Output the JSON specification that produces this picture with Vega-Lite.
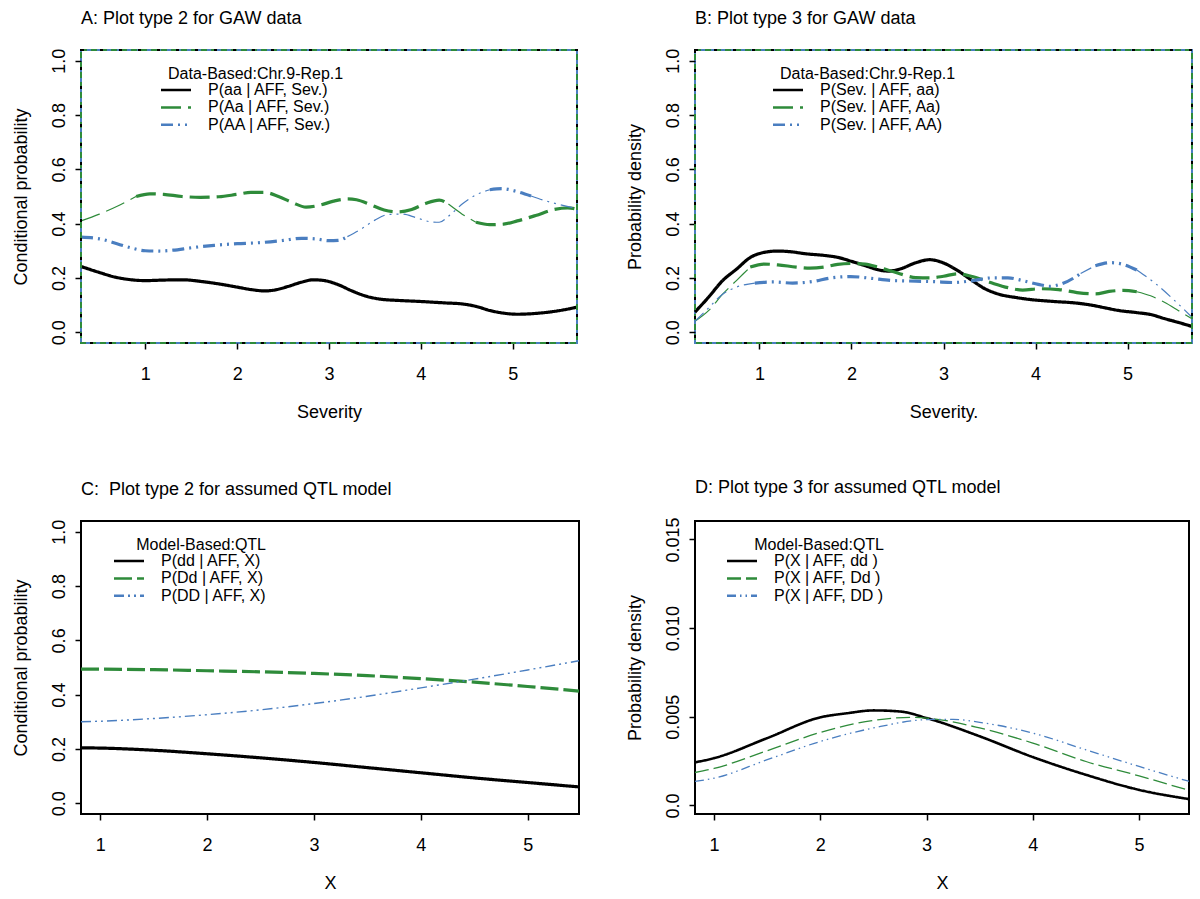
{
"$schema": "https://vega.github.io/schema/vega-lite/v6.json",
"background": "white",
"padding": {"left": 11, "top": 9, "right": 5, "bottom": 5},
"spacing": 55,
"config": {
 "font": "Liberation Sans",
 "axis": {"domain": false, "grid": false, "tickColor": "#000", "tickWidth": 1.5, "tickSize": 6, "labelColor": "#000", "labelFontSize": 18, "titleFontSize": 18, "titleFontWeight": "normal", "titleColor": "#000", "labelFont": "Liberation Sans", "titleFont": "Liberation Sans"},
 "axisX": {"labelPadding": 16, "titlePadding": 20},
 "axisY": {"labelAngle": 270, "labelAlign": "center", "labelBaseline": "bottom", "labelPadding": 7, "titlePadding": 20},
 "legend": {"orient": "none", "padding": 0, "titleFontSize": 16, "titleFontWeight": "normal", "titleFont": "Liberation Sans", "titleColor": "#000", "titleLimit": 400, "titleAnchor": "end", "titlePadding": 0, "labelFontSize": 16, "labelFont": "Liberation Sans", "labelColor": "#000", "labelLimit": 400, "symbolType": "M-3,0H3", "symbolSize": 100, "symbolStrokeWidth": 2.5, "labelOffset": 24, "rowPadding": 1.4},
 "title": {"anchor": "start", "frame": "group", "fontSize": 18, "fontWeight": "normal", "color": "#000", "baseline": "alphabetic", "offset": 20, "font": "Liberation Sans"},
 "line": {"interpolate": "monotone"}
},
"datasets": {
 "A": [
  {"s":"P(aa | AFF, Sev.)","g":1,"w":"high","x":0.3,"y":0.242},{"s":"P(aa | AFF, Sev.)","g":1,"w":"high","x":0.5,"y":0.22},{"s":"P(aa | AFF, Sev.)","g":1,"w":"high","x":0.67,"y":0.203},{"s":"P(aa | AFF, Sev.)","g":1,"w":"high","x":0.85,"y":0.193},{"s":"P(aa | AFF, Sev.)","g":1,"w":"high","x":1.0,"y":0.19},{"s":"P(aa | AFF, Sev.)","g":1,"w":"high","x":1.2,"y":0.192},{"s":"P(aa | AFF, Sev.)","g":1,"w":"high","x":1.4,"y":0.193},{"s":"P(aa | AFF, Sev.)","g":1,"w":"high","x":1.63,"y":0.186},{"s":"P(aa | AFF, Sev.)","g":1,"w":"high","x":1.85,"y":0.175},{"s":"P(aa | AFF, Sev.)","g":1,"w":"high","x":2.0,"y":0.166},{"s":"P(aa | AFF, Sev.)","g":1,"w":"high","x":2.15,"y":0.157},{"s":"P(aa | AFF, Sev.)","g":1,"w":"high","x":2.3,"y":0.152},{"s":"P(aa | AFF, Sev.)","g":1,"w":"high","x":2.42,"y":0.156},{"s":"P(aa | AFF, Sev.)","g":1,"w":"high","x":2.55,"y":0.168},{"s":"P(aa | AFF, Sev.)","g":1,"w":"high","x":2.7,"y":0.184},{"s":"P(aa | AFF, Sev.)","g":1,"w":"high","x":2.83,"y":0.193},{"s":"P(aa | AFF, Sev.)","g":1,"w":"high","x":2.95,"y":0.19},{"s":"P(aa | AFF, Sev.)","g":1,"w":"high","x":3.1,"y":0.175},{"s":"P(aa | AFF, Sev.)","g":1,"w":"high","x":3.25,"y":0.152},{"s":"P(aa | AFF, Sev.)","g":1,"w":"high","x":3.4,"y":0.133},{"s":"P(aa | AFF, Sev.)","g":1,"w":"high","x":3.55,"y":0.122},{"s":"P(aa | AFF, Sev.)","g":1,"w":"high","x":3.75,"y":0.117},{"s":"P(aa | AFF, Sev.)","g":1,"w":"high","x":4.0,"y":0.113},{"s":"P(aa | AFF, Sev.)","g":1,"w":"high","x":4.25,"y":0.108},{"s":"P(aa | AFF, Sev.)","g":1,"w":"high","x":4.45,"y":0.104},{"s":"P(aa | AFF, Sev.)","g":1,"w":"high","x":4.6,"y":0.095},{"s":"P(aa | AFF, Sev.)","g":1,"w":"high","x":4.75,"y":0.08},{"s":"P(aa | AFF, Sev.)","g":1,"w":"high","x":4.9,"y":0.07},{"s":"P(aa | AFF, Sev.)","g":1,"w":"high","x":5.05,"y":0.066},{"s":"P(aa | AFF, Sev.)","g":1,"w":"high","x":5.25,"y":0.069},{"s":"P(aa | AFF, Sev.)","g":1,"w":"high","x":5.5,"y":0.079},{"s":"P(aa | AFF, Sev.)","g":1,"w":"high","x":5.7,"y":0.092},
  {"s":"P(Aa | AFF, Sev.)","g":1,"w":"low","x":0.3,"y":0.41},{"s":"P(Aa | AFF, Sev.)","g":1,"w":"low","x":0.5,"y":0.435},{"s":"P(Aa | AFF, Sev.)","g":1,"w":"low","x":0.7,"y":0.465},{"s":"P(Aa | AFF, Sev.)","g":1,"w":"low","x":0.9,"y":0.5},
  {"s":"P(Aa | AFF, Sev.)","g":2,"w":"high","x":0.9,"y":0.5},{"s":"P(Aa | AFF, Sev.)","g":2,"w":"high","x":1.05,"y":0.51},{"s":"P(Aa | AFF, Sev.)","g":2,"w":"high","x":1.2,"y":0.508},{"s":"P(Aa | AFF, Sev.)","g":2,"w":"high","x":1.4,"y":0.5},{"s":"P(Aa | AFF, Sev.)","g":2,"w":"high","x":1.6,"y":0.497},{"s":"P(Aa | AFF, Sev.)","g":2,"w":"high","x":1.8,"y":0.499},{"s":"P(Aa | AFF, Sev.)","g":2,"w":"high","x":2.0,"y":0.508},{"s":"P(Aa | AFF, Sev.)","g":2,"w":"high","x":2.15,"y":0.515},{"s":"P(Aa | AFF, Sev.)","g":2,"w":"high","x":2.3,"y":0.515},{"s":"P(Aa | AFF, Sev.)","g":2,"w":"high","x":2.45,"y":0.5},{"s":"P(Aa | AFF, Sev.)","g":2,"w":"high","x":2.6,"y":0.478},{"s":"P(Aa | AFF, Sev.)","g":2,"w":"high","x":2.75,"y":0.461},{"s":"P(Aa | AFF, Sev.)","g":2,"w":"high","x":2.9,"y":0.468},{"s":"P(Aa | AFF, Sev.)","g":2,"w":"high","x":3.05,"y":0.483},{"s":"P(Aa | AFF, Sev.)","g":2,"w":"high","x":3.2,"y":0.491},{"s":"P(Aa | AFF, Sev.)","g":2,"w":"high","x":3.3,"y":0.488},{"s":"P(Aa | AFF, Sev.)","g":2,"w":"high","x":3.45,"y":0.47},{"s":"P(Aa | AFF, Sev.)","g":2,"w":"high","x":3.6,"y":0.45},{"s":"P(Aa | AFF, Sev.)","g":2,"w":"high","x":3.75,"y":0.443},{"s":"P(Aa | AFF, Sev.)","g":2,"w":"high","x":3.9,"y":0.452},{"s":"P(Aa | AFF, Sev.)","g":2,"w":"high","x":4.05,"y":0.474},{"s":"P(Aa | AFF, Sev.)","g":2,"w":"high","x":4.2,"y":0.487},{"s":"P(Aa | AFF, Sev.)","g":2,"w":"high","x":4.3,"y":0.472},
  {"s":"P(Aa | AFF, Sev.)","g":3,"w":"low","x":4.3,"y":0.472},{"s":"P(Aa | AFF, Sev.)","g":3,"w":"low","x":4.45,"y":0.435},{"s":"P(Aa | AFF, Sev.)","g":3,"w":"low","x":4.6,"y":0.405},
  {"s":"P(Aa | AFF, Sev.)","g":4,"w":"high","x":4.6,"y":0.405},{"s":"P(Aa | AFF, Sev.)","g":4,"w":"high","x":4.75,"y":0.396},{"s":"P(Aa | AFF, Sev.)","g":4,"w":"high","x":4.9,"y":0.398},{"s":"P(Aa | AFF, Sev.)","g":4,"w":"high","x":5.05,"y":0.41},{"s":"P(Aa | AFF, Sev.)","g":4,"w":"high","x":5.25,"y":0.43},{"s":"P(Aa | AFF, Sev.)","g":4,"w":"high","x":5.45,"y":0.452},{"s":"P(Aa | AFF, Sev.)","g":4,"w":"high","x":5.6,"y":0.458},{"s":"P(Aa | AFF, Sev.)","g":4,"w":"high","x":5.7,"y":0.453},
  {"s":"P(AA | AFF, Sev.)","g":1,"w":"high","x":0.3,"y":0.35},{"s":"P(AA | AFF, Sev.)","g":1,"w":"high","x":0.5,"y":0.344},{"s":"P(AA | AFF, Sev.)","g":1,"w":"high","x":0.7,"y":0.325},{"s":"P(AA | AFF, Sev.)","g":1,"w":"high","x":0.85,"y":0.31},{"s":"P(AA | AFF, Sev.)","g":1,"w":"high","x":1.0,"y":0.3},{"s":"P(AA | AFF, Sev.)","g":1,"w":"high","x":1.15,"y":0.299},{"s":"P(AA | AFF, Sev.)","g":1,"w":"high","x":1.3,"y":0.302},{"s":"P(AA | AFF, Sev.)","g":1,"w":"high","x":1.5,"y":0.311},{"s":"P(AA | AFF, Sev.)","g":1,"w":"high","x":1.75,"y":0.32},{"s":"P(AA | AFF, Sev.)","g":1,"w":"high","x":2.0,"y":0.326},{"s":"P(AA | AFF, Sev.)","g":1,"w":"high","x":2.25,"y":0.33},{"s":"P(AA | AFF, Sev.)","g":1,"w":"high","x":2.5,"y":0.338},{"s":"P(AA | AFF, Sev.)","g":1,"w":"high","x":2.7,"y":0.346},{"s":"P(AA | AFF, Sev.)","g":1,"w":"high","x":2.85,"y":0.344},{"s":"P(AA | AFF, Sev.)","g":1,"w":"high","x":3.0,"y":0.337},{"s":"P(AA | AFF, Sev.)","g":1,"w":"high","x":3.1,"y":0.338},{"s":"P(AA | AFF, Sev.)","g":1,"w":"high","x":3.2,"y":0.352},
  {"s":"P(AA | AFF, Sev.)","g":2,"w":"low","x":3.2,"y":0.352},{"s":"P(AA | AFF, Sev.)","g":2,"w":"low","x":3.35,"y":0.38},{"s":"P(AA | AFF, Sev.)","g":2,"w":"low","x":3.5,"y":0.413},{"s":"P(AA | AFF, Sev.)","g":2,"w":"low","x":3.65,"y":0.434},{"s":"P(AA | AFF, Sev.)","g":2,"w":"low","x":3.8,"y":0.435},{"s":"P(AA | AFF, Sev.)","g":2,"w":"low","x":3.95,"y":0.422},{"s":"P(AA | AFF, Sev.)","g":2,"w":"low","x":4.1,"y":0.407},{"s":"P(AA | AFF, Sev.)","g":2,"w":"low","x":4.2,"y":0.405},{"s":"P(AA | AFF, Sev.)","g":2,"w":"low","x":4.3,"y":0.427},{"s":"P(AA | AFF, Sev.)","g":2,"w":"low","x":4.45,"y":0.472},{"s":"P(AA | AFF, Sev.)","g":2,"w":"low","x":4.6,"y":0.506},{"s":"P(AA | AFF, Sev.)","g":2,"w":"low","x":4.75,"y":0.525},
  {"s":"P(AA | AFF, Sev.)","g":3,"w":"high","x":4.75,"y":0.525},{"s":"P(AA | AFF, Sev.)","g":3,"w":"high","x":4.88,"y":0.529},{"s":"P(AA | AFF, Sev.)","g":3,"w":"high","x":5.05,"y":0.518},{"s":"P(AA | AFF, Sev.)","g":3,"w":"high","x":5.2,"y":0.502},
  {"s":"P(AA | AFF, Sev.)","g":4,"w":"low","x":5.2,"y":0.502},{"s":"P(AA | AFF, Sev.)","g":4,"w":"low","x":5.35,"y":0.485},{"s":"P(AA | AFF, Sev.)","g":4,"w":"low","x":5.5,"y":0.471},{"s":"P(AA | AFF, Sev.)","g":4,"w":"low","x":5.7,"y":0.455}
 ],
 "B": [
  {"s":"P(Sev. | AFF, aa)","g":1,"w":"high","x":0.3,"y":0.074},{"s":"P(Sev. | AFF, aa)","g":1,"w":"high","x":0.45,"y":0.13},{"s":"P(Sev. | AFF, aa)","g":1,"w":"high","x":0.6,"y":0.19},{"s":"P(Sev. | AFF, aa)","g":1,"w":"high","x":0.75,"y":0.232},{"s":"P(Sev. | AFF, aa)","g":1,"w":"high","x":0.9,"y":0.275},{"s":"P(Sev. | AFF, aa)","g":1,"w":"high","x":1.05,"y":0.294},{"s":"P(Sev. | AFF, aa)","g":1,"w":"high","x":1.2,"y":0.299},{"s":"P(Sev. | AFF, aa)","g":1,"w":"high","x":1.35,"y":0.296},{"s":"P(Sev. | AFF, aa)","g":1,"w":"high","x":1.5,"y":0.289},{"s":"P(Sev. | AFF, aa)","g":1,"w":"high","x":1.7,"y":0.283},{"s":"P(Sev. | AFF, aa)","g":1,"w":"high","x":1.86,"y":0.275},{"s":"P(Sev. | AFF, aa)","g":1,"w":"high","x":2.0,"y":0.261},{"s":"P(Sev. | AFF, aa)","g":1,"w":"high","x":2.15,"y":0.245},{"s":"P(Sev. | AFF, aa)","g":1,"w":"high","x":2.3,"y":0.229},{"s":"P(Sev. | AFF, aa)","g":1,"w":"high","x":2.4,"y":0.225},{"s":"P(Sev. | AFF, aa)","g":1,"w":"high","x":2.53,"y":0.233},{"s":"P(Sev. | AFF, aa)","g":1,"w":"high","x":2.7,"y":0.256},{"s":"P(Sev. | AFF, aa)","g":1,"w":"high","x":2.85,"y":0.267},{"s":"P(Sev. | AFF, aa)","g":1,"w":"high","x":3.0,"y":0.255},{"s":"P(Sev. | AFF, aa)","g":1,"w":"high","x":3.15,"y":0.228},{"s":"P(Sev. | AFF, aa)","g":1,"w":"high","x":3.3,"y":0.193},{"s":"P(Sev. | AFF, aa)","g":1,"w":"high","x":3.45,"y":0.16},{"s":"P(Sev. | AFF, aa)","g":1,"w":"high","x":3.6,"y":0.14},{"s":"P(Sev. | AFF, aa)","g":1,"w":"high","x":3.8,"y":0.127},{"s":"P(Sev. | AFF, aa)","g":1,"w":"high","x":3.95,"y":0.12},{"s":"P(Sev. | AFF, aa)","g":1,"w":"high","x":4.2,"y":0.113},{"s":"P(Sev. | AFF, aa)","g":1,"w":"high","x":4.45,"y":0.107},{"s":"P(Sev. | AFF, aa)","g":1,"w":"high","x":4.6,"y":0.1},{"s":"P(Sev. | AFF, aa)","g":1,"w":"high","x":4.75,"y":0.09},{"s":"P(Sev. | AFF, aa)","g":1,"w":"high","x":4.9,"y":0.08},{"s":"P(Sev. | AFF, aa)","g":1,"w":"high","x":5.1,"y":0.072},{"s":"P(Sev. | AFF, aa)","g":1,"w":"high","x":5.25,"y":0.065},{"s":"P(Sev. | AFF, aa)","g":1,"w":"high","x":5.4,"y":0.05},{"s":"P(Sev. | AFF, aa)","g":1,"w":"high","x":5.55,"y":0.036},{"s":"P(Sev. | AFF, aa)","g":1,"w":"high","x":5.7,"y":0.021},
  {"s":"P(Sev. | AFF, Aa)","g":1,"w":"low","x":0.3,"y":0.04},{"s":"P(Sev. | AFF, Aa)","g":1,"w":"low","x":0.45,"y":0.08},{"s":"P(Sev. | AFF, Aa)","g":1,"w":"low","x":0.6,"y":0.14},{"s":"P(Sev. | AFF, Aa)","g":1,"w":"low","x":0.75,"y":0.19},{"s":"P(Sev. | AFF, Aa)","g":1,"w":"low","x":0.9,"y":0.24},
  {"s":"P(Sev. | AFF, Aa)","g":2,"w":"high","x":0.9,"y":0.24},{"s":"P(Sev. | AFF, Aa)","g":2,"w":"high","x":1.05,"y":0.251},{"s":"P(Sev. | AFF, Aa)","g":2,"w":"high","x":1.2,"y":0.248},{"s":"P(Sev. | AFF, Aa)","g":2,"w":"high","x":1.4,"y":0.24},{"s":"P(Sev. | AFF, Aa)","g":2,"w":"high","x":1.55,"y":0.236},{"s":"P(Sev. | AFF, Aa)","g":2,"w":"high","x":1.7,"y":0.24},{"s":"P(Sev. | AFF, Aa)","g":2,"w":"high","x":1.85,"y":0.25},{"s":"P(Sev. | AFF, Aa)","g":2,"w":"high","x":2.0,"y":0.253},{"s":"P(Sev. | AFF, Aa)","g":2,"w":"high","x":2.15,"y":0.251},{"s":"P(Sev. | AFF, Aa)","g":2,"w":"high","x":2.3,"y":0.238},{"s":"P(Sev. | AFF, Aa)","g":2,"w":"high","x":2.5,"y":0.218},{"s":"P(Sev. | AFF, Aa)","g":2,"w":"high","x":2.7,"y":0.201},{"s":"P(Sev. | AFF, Aa)","g":2,"w":"high","x":2.85,"y":0.2},{"s":"P(Sev. | AFF, Aa)","g":2,"w":"high","x":3.0,"y":0.206},{"s":"P(Sev. | AFF, Aa)","g":2,"w":"high","x":3.15,"y":0.215},{"s":"P(Sev. | AFF, Aa)","g":2,"w":"high","x":3.3,"y":0.206},{"s":"P(Sev. | AFF, Aa)","g":2,"w":"high","x":3.5,"y":0.184},{"s":"P(Sev. | AFF, Aa)","g":2,"w":"high","x":3.7,"y":0.164},{"s":"P(Sev. | AFF, Aa)","g":2,"w":"high","x":3.86,"y":0.155},{"s":"P(Sev. | AFF, Aa)","g":2,"w":"high","x":4.05,"y":0.16},{"s":"P(Sev. | AFF, Aa)","g":2,"w":"high","x":4.25,"y":0.157},{"s":"P(Sev. | AFF, Aa)","g":2,"w":"high","x":4.45,"y":0.146},{"s":"P(Sev. | AFF, Aa)","g":2,"w":"high","x":4.65,"y":0.141},{"s":"P(Sev. | AFF, Aa)","g":2,"w":"high","x":4.8,"y":0.15},{"s":"P(Sev. | AFF, Aa)","g":2,"w":"high","x":4.95,"y":0.154},{"s":"P(Sev. | AFF, Aa)","g":2,"w":"high","x":5.1,"y":0.149},
  {"s":"P(Sev. | AFF, Aa)","g":3,"w":"low","x":5.1,"y":0.149},{"s":"P(Sev. | AFF, Aa)","g":3,"w":"low","x":5.25,"y":0.134},{"s":"P(Sev. | AFF, Aa)","g":3,"w":"low","x":5.4,"y":0.11},{"s":"P(Sev. | AFF, Aa)","g":3,"w":"low","x":5.55,"y":0.08},{"s":"P(Sev. | AFF, Aa)","g":3,"w":"low","x":5.7,"y":0.049},
  {"s":"P(Sev. | AFF, AA)","g":1,"w":"low","x":0.3,"y":0.04},{"s":"P(Sev. | AFF, AA)","g":1,"w":"low","x":0.45,"y":0.09},{"s":"P(Sev. | AFF, AA)","g":1,"w":"low","x":0.6,"y":0.14},{"s":"P(Sev. | AFF, AA)","g":1,"w":"low","x":0.75,"y":0.166},{"s":"P(Sev. | AFF, AA)","g":1,"w":"low","x":0.95,"y":0.181},
  {"s":"P(Sev. | AFF, AA)","g":2,"w":"high","x":0.95,"y":0.181},{"s":"P(Sev. | AFF, AA)","g":2,"w":"high","x":1.15,"y":0.185},{"s":"P(Sev. | AFF, AA)","g":2,"w":"high","x":1.36,"y":0.181},{"s":"P(Sev. | AFF, AA)","g":2,"w":"high","x":1.57,"y":0.186},{"s":"P(Sev. | AFF, AA)","g":2,"w":"high","x":1.78,"y":0.2},{"s":"P(Sev. | AFF, AA)","g":2,"w":"high","x":1.99,"y":0.205},{"s":"P(Sev. | AFF, AA)","g":2,"w":"high","x":2.2,"y":0.199},{"s":"P(Sev. | AFF, AA)","g":2,"w":"high","x":2.45,"y":0.19},{"s":"P(Sev. | AFF, AA)","g":2,"w":"high","x":2.7,"y":0.188},{"s":"P(Sev. | AFF, AA)","g":2,"w":"high","x":2.9,"y":0.186},{"s":"P(Sev. | AFF, AA)","g":2,"w":"high","x":3.11,"y":0.183},{"s":"P(Sev. | AFF, AA)","g":2,"w":"high","x":3.32,"y":0.19},{"s":"P(Sev. | AFF, AA)","g":2,"w":"high","x":3.53,"y":0.2},{"s":"P(Sev. | AFF, AA)","g":2,"w":"high","x":3.7,"y":0.2},{"s":"P(Sev. | AFF, AA)","g":2,"w":"high","x":3.86,"y":0.19},{"s":"P(Sev. | AFF, AA)","g":2,"w":"high","x":4.03,"y":0.176},{"s":"P(Sev. | AFF, AA)","g":2,"w":"high","x":4.15,"y":0.169},{"s":"P(Sev. | AFF, AA)","g":2,"w":"high","x":4.3,"y":0.18},{"s":"P(Sev. | AFF, AA)","g":2,"w":"high","x":4.49,"y":0.216},
  {"s":"P(Sev. | AFF, AA)","g":3,"w":"low","x":4.49,"y":0.216},{"s":"P(Sev. | AFF, AA)","g":3,"w":"low","x":4.65,"y":0.245},
  {"s":"P(Sev. | AFF, AA)","g":4,"w":"high","x":4.65,"y":0.245},{"s":"P(Sev. | AFF, AA)","g":4,"w":"high","x":4.82,"y":0.256},{"s":"P(Sev. | AFF, AA)","g":4,"w":"high","x":4.95,"y":0.25},{"s":"P(Sev. | AFF, AA)","g":4,"w":"high","x":5.1,"y":0.229},
  {"s":"P(Sev. | AFF, AA)","g":5,"w":"low","x":5.1,"y":0.229},{"s":"P(Sev. | AFF, AA)","g":5,"w":"low","x":5.3,"y":0.18},{"s":"P(Sev. | AFF, AA)","g":5,"w":"low","x":5.5,"y":0.12},{"s":"P(Sev. | AFF, AA)","g":5,"w":"low","x":5.7,"y":0.055}
 ],
 "C": [
  {"s":"P(dd | AFF, X)","g":1,"w":"high","x":0.82,"y":0.204},{"s":"P(dd | AFF, X)","g":1,"w":"high","x":1.0,"y":0.203},{"s":"P(dd | AFF, X)","g":1,"w":"high","x":1.5,"y":0.195},{"s":"P(dd | AFF, X)","g":1,"w":"high","x":2.0,"y":0.182},{"s":"P(dd | AFF, X)","g":1,"w":"high","x":2.5,"y":0.167},{"s":"P(dd | AFF, X)","g":1,"w":"high","x":3.0,"y":0.15},{"s":"P(dd | AFF, X)","g":1,"w":"high","x":3.5,"y":0.131},{"s":"P(dd | AFF, X)","g":1,"w":"high","x":4.0,"y":0.112},{"s":"P(dd | AFF, X)","g":1,"w":"high","x":4.5,"y":0.093},{"s":"P(dd | AFF, X)","g":1,"w":"high","x":5.0,"y":0.076},{"s":"P(dd | AFF, X)","g":1,"w":"high","x":5.48,"y":0.06},
  {"s":"P(Dd | AFF, X)","g":1,"w":"high","x":0.82,"y":0.494},{"s":"P(Dd | AFF, X)","g":1,"w":"high","x":1.5,"y":0.492},{"s":"P(Dd | AFF, X)","g":1,"w":"high","x":2.0,"y":0.488},{"s":"P(Dd | AFF, X)","g":1,"w":"high","x":2.5,"y":0.484},{"s":"P(Dd | AFF, X)","g":1,"w":"high","x":3.0,"y":0.478},{"s":"P(Dd | AFF, X)","g":1,"w":"high","x":3.5,"y":0.47},{"s":"P(Dd | AFF, X)","g":1,"w":"high","x":4.0,"y":0.459},{"s":"P(Dd | AFF, X)","g":1,"w":"high","x":4.5,"y":0.446},{"s":"P(Dd | AFF, X)","g":1,"w":"high","x":5.0,"y":0.43},{"s":"P(Dd | AFF, X)","g":1,"w":"high","x":5.48,"y":0.413},
  {"s":"P(DD | AFF, X)","g":1,"w":"low","x":0.82,"y":0.3},{"s":"P(DD | AFF, X)","g":1,"w":"low","x":1.0,"y":0.302},{"s":"P(DD | AFF, X)","g":1,"w":"low","x":1.5,"y":0.312},{"s":"P(DD | AFF, X)","g":1,"w":"low","x":2.0,"y":0.326},{"s":"P(DD | AFF, X)","g":1,"w":"low","x":2.5,"y":0.344},{"s":"P(DD | AFF, X)","g":1,"w":"low","x":3.0,"y":0.367},{"s":"P(DD | AFF, X)","g":1,"w":"low","x":3.5,"y":0.394},{"s":"P(DD | AFF, X)","g":1,"w":"low","x":4.0,"y":0.425},{"s":"P(DD | AFF, X)","g":1,"w":"low","x":4.5,"y":0.457},{"s":"P(DD | AFF, X)","g":1,"w":"low","x":5.0,"y":0.491},{"s":"P(DD | AFF, X)","g":1,"w":"low","x":5.48,"y":0.525}
 ],
 "D": [
  {"s":"P(X | AFF, dd )","g":1,"w":"high","x":0.82,"y":0.00243},{"s":"P(X | AFF, dd )","g":1,"w":"high","x":1.0,"y":0.00267},{"s":"P(X | AFF, dd )","g":1,"w":"high","x":1.5,"y":0.0038},{"s":"P(X | AFF, dd )","g":1,"w":"high","x":2.0,"y":0.00497},{"s":"P(X | AFF, dd )","g":1,"w":"high","x":2.25,"y":0.0052},{"s":"P(X | AFF, dd )","g":1,"w":"high","x":2.5,"y":0.00536},{"s":"P(X | AFF, dd )","g":1,"w":"high","x":2.75,"y":0.0053},{"s":"P(X | AFF, dd )","g":1,"w":"high","x":3.0,"y":0.00493},{"s":"P(X | AFF, dd )","g":1,"w":"high","x":3.5,"y":0.0039},{"s":"P(X | AFF, dd )","g":1,"w":"high","x":4.0,"y":0.00273},{"s":"P(X | AFF, dd )","g":1,"w":"high","x":4.5,"y":0.00173},{"s":"P(X | AFF, dd )","g":1,"w":"high","x":5.0,"y":0.00088},{"s":"P(X | AFF, dd )","g":1,"w":"high","x":5.47,"y":0.00036},
  {"s":"P(X | AFF, Dd )","g":1,"w":"low","x":0.82,"y":0.00186},{"s":"P(X | AFF, Dd )","g":1,"w":"low","x":1.0,"y":0.00209},{"s":"P(X | AFF, Dd )","g":1,"w":"low","x":1.5,"y":0.00309},{"s":"P(X | AFF, Dd )","g":1,"w":"low","x":2.0,"y":0.00412},{"s":"P(X | AFF, Dd )","g":1,"w":"low","x":2.5,"y":0.0048},{"s":"P(X | AFF, Dd )","g":1,"w":"low","x":2.85,"y":0.00497},{"s":"P(X | AFF, Dd )","g":1,"w":"low","x":3.0,"y":0.00493},{"s":"P(X | AFF, Dd )","g":1,"w":"low","x":3.5,"y":0.00437},{"s":"P(X | AFF, Dd )","g":1,"w":"low","x":4.0,"y":0.00352},{"s":"P(X | AFF, Dd )","g":1,"w":"low","x":4.5,"y":0.00248},{"s":"P(X | AFF, Dd )","g":1,"w":"low","x":5.0,"y":0.00167},{"s":"P(X | AFF, Dd )","g":1,"w":"low","x":5.47,"y":0.00085},
  {"s":"P(X | AFF, DD )","g":1,"w":"low","x":0.82,"y":0.00136},{"s":"P(X | AFF, DD )","g":1,"w":"low","x":1.0,"y":0.00154},{"s":"P(X | AFF, DD )","g":1,"w":"low","x":1.5,"y":0.00258},{"s":"P(X | AFF, DD )","g":1,"w":"low","x":2.0,"y":0.00361},{"s":"P(X | AFF, DD )","g":1,"w":"low","x":2.5,"y":0.00437},{"s":"P(X | AFF, DD )","g":1,"w":"low","x":3.0,"y":0.00484},{"s":"P(X | AFF, DD )","g":1,"w":"low","x":3.25,"y":0.00486},{"s":"P(X | AFF, DD )","g":1,"w":"low","x":3.5,"y":0.00469},{"s":"P(X | AFF, DD )","g":1,"w":"low","x":4.0,"y":0.00408},{"s":"P(X | AFF, DD )","g":1,"w":"low","x":4.5,"y":0.00314},{"s":"P(X | AFF, DD )","g":1,"w":"low","x":5.0,"y":0.0022},{"s":"P(X | AFF, DD )","g":1,"w":"low","x":5.47,"y":0.00136}
 ]
},
"resolve": {"scale": {"color": "independent", "strokeDash": "independent", "strokeWidth": "independent"}, "legend": {"color": "independent", "strokeDash": "independent"}},
"vconcat": [
 {"hconcat": [
  {"title": "A: Plot type 2 for GAW data", "width": 496, "height": 293,
   "view": {"stroke": "#4A7EC0", "strokeWidth": 2},
   "layer": [
    {"data": {"name": "A"}, "mark": {"type": "line"},
     "encoding": {
      "x": {"field": "x", "type": "quantitative", "scale": {"domain": [0.3, 5.7], "nice": false, "zero": false}, "axis": {"values": [1,2,3,4,5], "title": "Severity"}},
      "y": {"field": "y", "type": "quantitative", "scale": {"domain": [-0.04, 1.04], "nice": false, "zero": false}, "axis": {"values": [0,0.2,0.4,0.6,0.8,1], "format": ".1f", "title": "Conditional probability"}},
      "color": {"field": "s", "type": "nominal", "scale": {"domain": ["P(aa | AFF, Sev.)","P(Aa | AFF, Sev.)","P(AA | AFF, Sev.)"], "range": ["#000000","#2E8B3A","#4A7EC0"]}, "legend": {"title": "Data-Based:Chr.9-Rep.1", "titleAnchor": "start", "legendX": 87, "legendY": 16}},
      "strokeDash": {"field": "s", "type": "nominal", "scale": {"domain": ["P(aa | AFF, Sev.)","P(Aa | AFF, Sev.)","P(AA | AFF, Sev.)"], "range": [[1,0],[20,7],[12,5,2,5,2,5]]}, "legend": {"title": "Data-Based:Chr.9-Rep.1", "titleAnchor": "start", "legendX": 87, "legendY": 16}},
      "strokeWidth": {"field": "w", "type": "ordinal", "scale": {"domain": ["low","high"], "range": [1.2, 3.2]}, "legend": null},
      "detail": {"field": "g", "type": "nominal"}
     }},
    {"data": {"values": [{}]}, "mark": {"type": "rect", "fill": "transparent", "stroke": "#2E8B3A", "strokeWidth": 2, "strokeDash": [6,4]}, "encoding": {}},
    {"data": {"values": [{}]}, "mark": {"type": "rect", "fill": "transparent", "stroke": "#000000", "strokeWidth": 2, "strokeDash": [3,16]}, "encoding": {}}
   ]},
  {"title": "B: Plot type 3 for GAW data", "width": 497, "height": 293,
   "view": {"stroke": "#4A7EC0", "strokeWidth": 2},
   "layer": [
    {"data": {"name": "B"}, "mark": {"type": "line"},
     "encoding": {
      "x": {"field": "x", "type": "quantitative", "scale": {"domain": [0.3, 5.7], "nice": false, "zero": false}, "axis": {"values": [1,2,3,4,5], "title": "Severity."}},
      "y": {"field": "y", "type": "quantitative", "scale": {"domain": [-0.04, 1.04], "nice": false, "zero": false}, "axis": {"values": [0,0.2,0.4,0.6,0.8,1], "format": ".1f", "title": "Probability density"}},
      "color": {"field": "s", "type": "nominal", "scale": {"domain": ["P(Sev. | AFF, aa)","P(Sev. | AFF, Aa)","P(Sev. | AFF, AA)"], "range": ["#000000","#2E8B3A","#4A7EC0"]}, "legend": {"title": "Data-Based:Chr.9-Rep.1", "titleAnchor": "start", "legendX": 85, "legendY": 16}},
      "strokeDash": {"field": "s", "type": "nominal", "scale": {"domain": ["P(Sev. | AFF, aa)","P(Sev. | AFF, Aa)","P(Sev. | AFF, AA)"], "range": [[1,0],[20,7],[12,5,2,5,2,5]]}, "legend": {"title": "Data-Based:Chr.9-Rep.1", "titleAnchor": "start", "legendX": 85, "legendY": 16}},
      "strokeWidth": {"field": "w", "type": "ordinal", "scale": {"domain": ["low","high"], "range": [1.2, 3.2]}, "legend": null},
      "detail": {"field": "g", "type": "nominal"}
     }},
    {"data": {"values": [{}]}, "mark": {"type": "rect", "fill": "transparent", "stroke": "#2E8B3A", "strokeWidth": 2, "strokeDash": [6,4]}, "encoding": {}},
    {"data": {"values": [{}]}, "mark": {"type": "rect", "fill": "transparent", "stroke": "#000000", "strokeWidth": 2, "strokeDash": [3,16]}, "encoding": {}}
   ]}
 ], "spacing": 118, "bounds": "flush",
 "resolve": {"scale": {"color": "independent", "strokeDash": "independent", "strokeWidth": "independent"}, "legend": {"color": "independent", "strokeDash": "independent"}}},
 {"hconcat": [
  {"title": "C:\u00a0 Plot type 2 for assumed QTL model", "width": 498, "height": 293,
   "view": {"stroke": "#000000", "strokeWidth": 2},
   "data": {"name": "C"}, "mark": {"type": "line"},
   "encoding": {
    "x": {"field": "x", "type": "quantitative", "scale": {"domain": [0.82, 5.48], "nice": false, "zero": false}, "axis": {"values": [1,2,3,4,5], "title": "X"}},
    "y": {"field": "y", "type": "quantitative", "scale": {"domain": [-0.04, 1.04], "nice": false, "zero": false}, "axis": {"values": [0,0.2,0.4,0.6,0.8,1], "format": ".1f", "title": "Conditional probability"}},
    "color": {"field": "s", "type": "nominal", "scale": {"domain": ["P(dd | AFF, X)","P(Dd | AFF, X)","P(DD | AFF, X)"], "range": ["#000000","#2E8B3A","#4A7EC0"]}, "legend": {"title": "Model-Based:QTL", "legendX": 40, "legendY": 16}},
    "strokeDash": {"field": "s", "type": "nominal", "scale": {"domain": ["P(dd | AFF, X)","P(Dd | AFF, X)","P(DD | AFF, X)"], "range": [[1,0],[18,5],[10,4,2,4,2,4]]}, "legend": {"title": "Model-Based:QTL", "legendX": 40, "legendY": 16}},
    "strokeWidth": {"field": "w", "type": "ordinal", "scale": {"domain": ["low","high"], "range": [1.4, 3.2]}, "legend": null},
    "detail": {"field": "g", "type": "nominal"}
   }},
  {"title": "D: Plot type 3 for assumed QTL model", "width": 494, "height": 293,
   "view": {"stroke": "#000000", "strokeWidth": 2},
   "data": {"name": "D"}, "mark": {"type": "line"},
   "encoding": {
    "x": {"field": "x", "type": "quantitative", "scale": {"domain": [0.82, 5.47], "nice": false, "zero": false}, "axis": {"values": [1,2,3,4,5], "title": "X"}},
    "y": {"field": "y", "type": "quantitative", "scale": {"domain": [-0.00048, 0.01604], "nice": false, "zero": false}, "axis": {"values": [0,0.005,0.01,0.015], "labelExpr": "datum.value == 0 ? '0.0' : format(datum.value, '.3f')", "title": "Probability density"}},
    "color": {"field": "s", "type": "nominal", "scale": {"domain": ["P(X | AFF, dd )","P(X | AFF, Dd )","P(X | AFF, DD )"], "range": ["#000000","#2E8B3A","#4A7EC0"]}, "legend": {"title": "Model-Based:QTL", "legendX": 39, "legendY": 16}},
    "strokeDash": {"field": "s", "type": "nominal", "scale": {"domain": ["P(X | AFF, dd )","P(X | AFF, Dd )","P(X | AFF, DD )"], "range": [[1,0],[14,5],[9,4,1.5,4,1.5,4]]}, "legend": {"title": "Model-Based:QTL", "legendX": 39, "legendY": 16}},
    "strokeWidth": {"field": "w", "type": "ordinal", "scale": {"domain": ["low","high"], "range": [1.3, 2.6]}, "legend": null},
    "detail": {"field": "g", "type": "nominal"}
   }}
 ], "spacing": 116, "bounds": "flush",
 "resolve": {"scale": {"color": "independent", "strokeDash": "independent", "strokeWidth": "independent"}, "legend": {"color": "independent", "strokeDash": "independent"}}}
]
}
